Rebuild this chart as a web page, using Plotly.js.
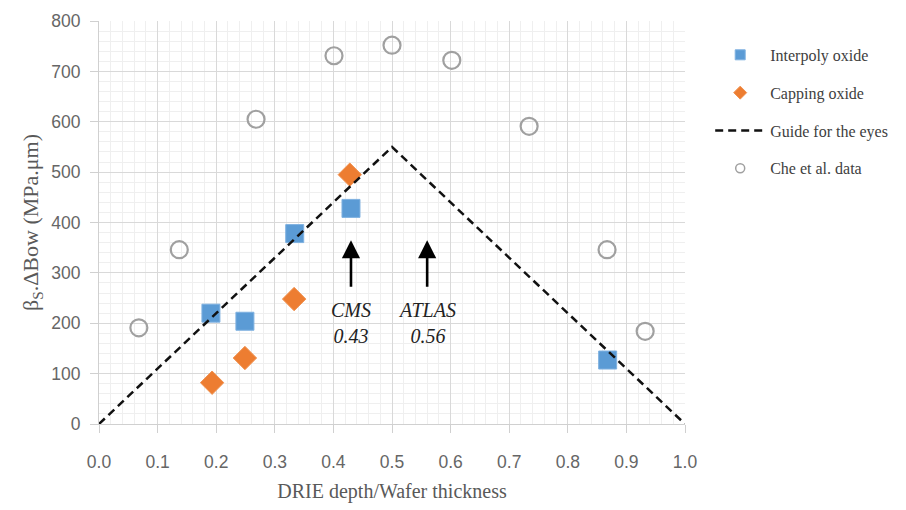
<!DOCTYPE html>
<html>
<head>
<meta charset="utf-8">
<script src="https://cdn.plot.ly/plotly-3.0.1.min.js"></script>
<style>html,body{margin:0;padding:0;background:#fff;}#chart{width:906px;height:510px;}</style>
</head>
<body>
<div id="chart"></div>
<script>
// Interpoly oxide
const interpolyX = [0.191, 0.249, 0.334, 0.430, 0.868];
const interpolyY = [220, 204, 378, 428, 127];
// Capping oxide
const cappingX = [0.193, 0.249, 0.333, 0.428];
const cappingY = [82, 131, 248, 495];
// Guide for the eyes
const guideX = [0.0, 0.5, 1.0];
const guideY = [0, 550, 0];
// Che et al. data
const cheX = [0.068, 0.137, 0.268, 0.401, 0.500, 0.602, 0.734, 0.867, 0.932];
const cheY = [191, 346, 605, 731, 752, 722, 591, 346, 184];
// Arrow annotations
const arrowX = [0.43, 0.56];
const arrowTipY = [365, 365];
const arrowLabels = ["CMS<br>0.43", "ATLAS<br>0.56"];
const arrowLabelY = [200, 200];

const serif = "Liberation Serif, DejaVu Serif, serif";
const gray = "#595959";
const tickGray = "#666666";

const blue = {symbol: "square", color: "#5b9bd5", line: {color: "#7fb1e0", width: 1}};
const orange = {symbol: "diamond", color: "#ed7d31", line: {color: "#f0914f", width: 1}};
const grayC = {symbol: "circle-open", color: "#a0a0a0"};

const traces = [
  {x: interpolyX, y: interpolyY, mode: "markers", type: "scatter", name: "Interpoly oxide", showlegend: false,
   marker: Object.assign({size: 18}, blue)},
  {x: cappingX, y: cappingY, mode: "markers", type: "scatter", name: "Capping oxide", showlegend: false,
   marker: Object.assign({size: 18}, orange)},
  {x: guideX, y: guideY, mode: "lines", type: "scatter", name: "Guide for the eyes", showlegend: false,
   line: {color: "#111", width: 2.5, dash: "8px,5px"}},
  {x: cheX, y: cheY, mode: "markers", type: "scatter", name: "Che et al. data", showlegend: false,
   marker: Object.assign({size: 17, line: {color: "#a0a0a0", width: 2.2}}, grayC)},
  // legend entries (smaller symbols, as in the reference legend)
  {x: [null], y: [null], mode: "markers", type: "scatter", name: "Interpoly oxide", legendgroup: "a",
   marker: Object.assign({size: 10}, blue)},
  {x: [null], y: [null], mode: "markers", type: "scatter", name: "Capping oxide", legendgroup: "b",
   marker: Object.assign({size: 10}, orange)},
  {x: [null], y: [null], mode: "lines", type: "scatter", name: "Guide for the eyes", legendgroup: "c",
   line: {color: "#111", width: 2.5, dash: "8px,5px"}},
  {x: [null], y: [null], mode: "markers", type: "scatter", name: "Che et al. data", legendgroup: "d",
   marker: Object.assign({size: 9, line: {color: "#a0a0a0", width: 1.5}}, grayC)}
];

const annotations = [];
for (let i = 0; i < arrowX.length; i++) {
  annotations.push({x: arrowX[i], y: arrowTipY[i], ax: arrowX[i], ay: arrowLabelY[i], axref: "x", ayref: "y",
    xref: "x", yref: "y", text: "<i>" + arrowLabels[i] + "</i>", showarrow: true, arrowhead: 2, arrowsize: 1.4,
    arrowwidth: 2.6, arrowcolor: "#000", height: 70, valign: "middle", align: "center",
    font: {family: serif, size: 20, color: "#222"}});
}

const layout = {
  width: 906, height: 510,
  margin: {l: 99, r: 221, t: 21, b: 86},
  paper_bgcolor: "#fff", plot_bgcolor: "#fff",
  showlegend: true,
  legend: {x: 1.043, y: 0.958, xanchor: "left", yanchor: "top", font: {family: serif, size: 16, color: "#404040"},
    tracegroupgap: 14, itemwidth: 50, bgcolor: "rgba(0,0,0,0)"},
  xaxis: {range: [0, 1.0], dtick: 0.1, tick0: 0, tickformat: ".1f", showgrid: true, gridcolor: "#d9d9d9", gridwidth: 1,
    minor: {dtick: 0.02, showgrid: true, gridcolor: "#efefef", gridwidth: 1},
    showline: true, linecolor: "#d0d0d0", linewidth: 1, ticks: "outside", ticklen: 8, tickcolor: "#d0d0d0",
    ticklabelstandoff: 14,
    zeroline: false, tickfont: {family: "Liberation Sans, Arial, sans-serif", size: 17.5, color: tickGray},
    title: {text: "DRIE depth/Wafer thickness", font: {family: serif, size: 20, color: gray}, standoff: 12}},
  yaxis: {range: [0, 800], dtick: 100, showgrid: true, gridcolor: "#d9d9d9", gridwidth: 1,
    minor: {dtick: 20, showgrid: true, gridcolor: "#efefef", gridwidth: 1},
    showline: true, linecolor: "#d0d0d0", linewidth: 1, ticks: "outside", ticklen: 8, tickcolor: "#d0d0d0",
    ticklabelstandoff: 6,
    zeroline: false, tickfont: {family: "Liberation Sans, Arial, sans-serif", size: 17.5, color: tickGray},
    title: {text: "β<sub>S</sub>.ΔBow (MPa.μm)", font: {family: serif, size: 22, color: gray}, standoff: 6}},
  annotations: annotations
};

Plotly.newPlot("chart", traces, layout, {displayModeBar: false, staticPlot: true});
</script>
</body>
</html>
